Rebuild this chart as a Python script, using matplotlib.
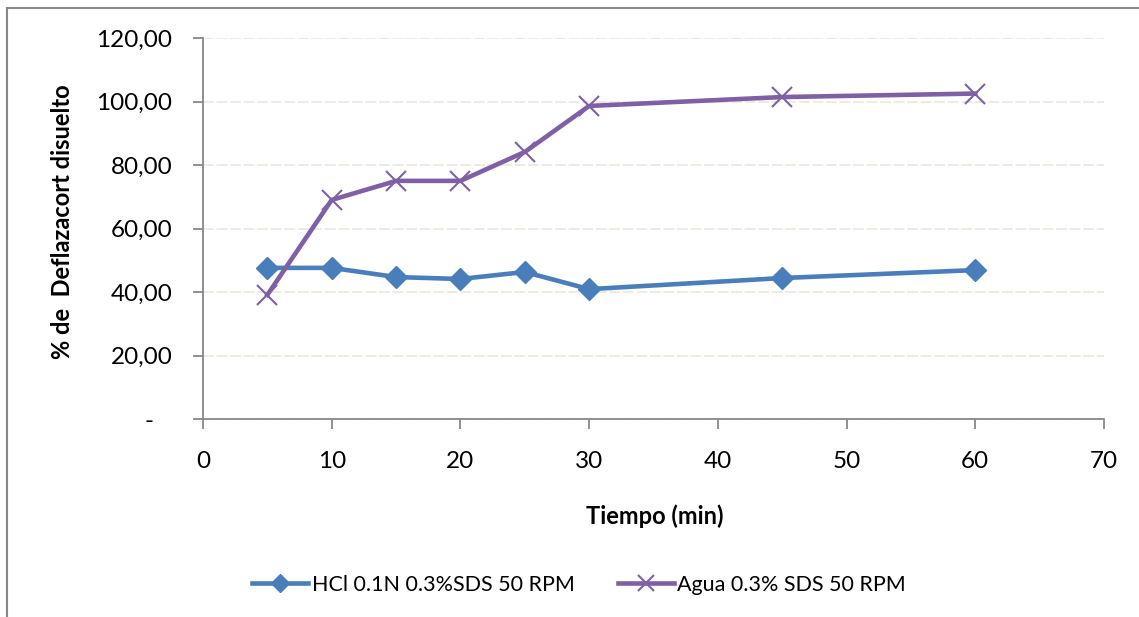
import matplotlib.pyplot as plt
from matplotlib.ticker import FuncFormatter
from matplotlib.lines import Line2D

plt.rcParams['font.family'] = ['Lato', 'DejaVu Sans']

# tiempos de muestreo (min)
tiempo = [5, 10, 15, 20, 25, 30, 45, 60]
# % disuelto en cada medio
hcl = [47.6, 47.6, 44.7, 44.1, 46.3, 40.9, 44.4, 46.9]
agua = [39.1, 69.0, 75.0, 75.0, 84.1, 98.6, 101.4, 102.5]

nombres = ['HCl 0.1N 0.3%SDS 50 RPM', 'Agua 0.3% SDS 50 RPM']
azul = '#4A7EBB'
morado = '#7F60A5'
gris = '#888888'

fig = plt.figure(figsize=(11.39, 6.17), dpi=100)
ax = fig.add_axes([203/1139, 1 - 419/617, 901/1139, 381/617])

# borde del area del grafico (estilo excel)
fig.add_artist(Line2D([7/1139, 7/1139], [0, 1 - 8/617], color=gris, lw=1.5))
fig.add_artist(Line2D([7/1139, 1], [1 - 8/617, 1 - 8/617], color=gris, lw=1.5))

ax.plot(tiempo, hcl, color=azul, lw=3.3, marker='D', ms=11.5, mec=azul,
        label=nombres[0])
ax.plot(tiempo, agua, color=morado, lw=3.3, marker='x', ms=14, mew=1.5,
        label=nombres[1])

ax.set_xlim(0, 70)
ax.set_ylim(0, 120)
ax.set_xticks(range(0, 71, 10))
ax.set_yticks(range(0, 121, 20))


def fmt(v, pos):
    if v == 0:
        return '-   '
    return f'{v:.2f}'.replace('.', ',')


ax.yaxis.set_major_formatter(FuncFormatter(fmt))
ax.grid(axis='y', color='#EDE9DF', lw=1.3, ls=(0, (6, 1.5)))
ax.set_axisbelow(True)

for s in ['top', 'right']:
    ax.spines[s].set_visible(False)
for s in ['left', 'bottom']:
    ax.spines[s].set_color(gris)
    ax.spines[s].set_linewidth(1.3)

ax.tick_params(axis='both', colors=gris, labelcolor='black', labelsize=17.5,
               length=7, width=1.3)
ax.tick_params(axis='x', pad=16)
ax.tick_params(axis='y', pad=15)

ax.set_xlabel('Tiempo (min)', fontsize=17, fontweight='bold')
ax.set_ylabel('% de  Deflazacort disuelto', fontsize=17, fontweight='bold')
ax.xaxis.set_label_coords((655 - 203) / 901, (419 - 504) / 381)
ax.yaxis.set_label_coords((74 - 203) / 901, (419 - 222) / 381)

fig.legend(loc='center', bbox_to_anchor=(579/1139, 1 - 585/617), ncol=2,
           frameon=False, fontsize=15.5, handlelength=2.6, columnspacing=2.0,
           handletextpad=0.15, markerscale=0.8)

plt.savefig('out.png', dpi=100)
